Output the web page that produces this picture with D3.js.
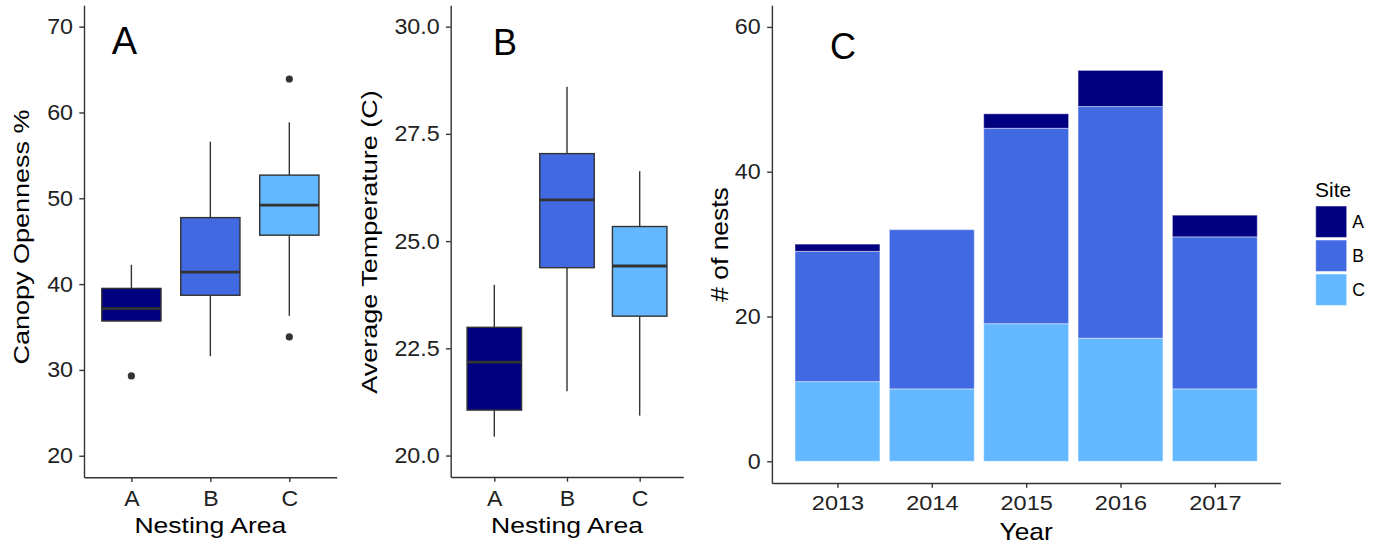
<!DOCTYPE html>
<html>
<head>
<meta charset="utf-8">
<script src="https://cdn.jsdelivr.net/npm/d3@7/dist/d3.min.js"></script>
<style>
  html, body { margin: 0; padding: 0; background: #fff; }
  svg { display: block; }
  text { font-family: "Liberation Sans", Arial, sans-serif; }
</style>
</head>
<body>
<svg id="fig" width="1375" height="548"></svg>
<script>
// ---- data ----
const areas = ["A", "B", "C"];
const siteColors = ["#000080", "#4169E1", "#63B8FF"];

// Canopy openness (%) box summaries per nesting area
const canopyLow    = [35.7, 31.6, 36.3];
const canopyQ1     = [35.7, 38.7, 45.7];
const canopyMedian = [37.15, 41.4, 49.2];
const canopyQ3     = [39.5, 47.75, 52.7];
const canopyHigh   = [42.25, 56.6, 58.85];
const canopyOutlierArea  = ["A", "C", "C"];
const canopyOutlierValue = [29.3, 63.9, 33.85];
const canopyTicks = [20, 30, 40, 50, 60, 70];

// Average temperature (C) box summaries per nesting area
const tempLow    = [20.44, 21.5, 20.93];
const tempQ1     = [21.06, 24.38, 23.25];
const tempMedian = [22.18, 25.96, 24.42];
const tempQ3     = [22.99, 27.04, 25.34];
const tempHigh   = [23.98, 28.6, 26.63];
const tempTicks = [20, 22.5, 25, 27.5, 30];

// Nest counts per year and site
const years  = [2013, 2014, 2015, 2016, 2017];
const nestsA = [1, 0, 2, 5, 3];
const nestsB = [18, 22, 27, 32, 21];
const nestsC = [11, 10, 19, 17, 10];
const nestTicks = [0, 20, 40, 60];

// ---- helpers ----
const svg = d3.select("#fig");
const AXIS = "#333333";
const TICK_TXT = "#222222";

function addText(g, str, x, y, size, opt = {}) {
  const rot = opt.rotate || 0;
  const sx = opt.sx || 1;
  return g.append("text")
    .attr("transform", `translate(${x},${y}) rotate(${rot}) scale(${sx},1)`)
    .attr("text-anchor", opt.anchor || "middle")
    .attr("font-size", size)
    .attr("fill", opt.fill || "#000")
    .text(str);
}

function styleAxis(g, fontSize, sx) {
  g.select(".domain").attr("stroke", AXIS).attr("stroke-width", 1.4);
  g.selectAll(".tick line").attr("stroke", AXIS).attr("stroke-width", 1.4);
  g.selectAll(".tick text")
    .attr("font-size", fontSize)
    .attr("fill", TICK_TXT)
    .attr("font-family", "Liberation Sans, Arial, sans-serif")
    .attr("transform", `scale(${sx},1)`);
}

function boxPanel(cfg) {
  const g = svg.append("g");
  const x = d3.scalePoint().domain(areas).range([cfg.x0, cfg.x1]).padding(0.6);
  const y = d3.scaleLinear().domain(cfg.domain).range([cfg.yBottom, cfg.yTop]);
  const bw = x.step() * 0.75;

  const rows = areas.map((a, i) => ({
    area: a, lo: cfg.low[i], q1: cfg.q1[i], med: cfg.med[i], q3: cfg.q3[i], hi: cfg.high[i], color: siteColors[i]
  }));

  const box = g.selectAll("g.box").data(rows).join("g").attr("class", "box");
  box.append("line")
    .attr("x1", d => x(d.area)).attr("x2", d => x(d.area))
    .attr("y1", d => y(d.hi)).attr("y2", d => y(d.q3))
    .attr("stroke", AXIS).attr("stroke-width", 1.4);
  box.append("line")
    .attr("x1", d => x(d.area)).attr("x2", d => x(d.area))
    .attr("y1", d => y(d.q1)).attr("y2", d => y(d.lo))
    .attr("stroke", AXIS).attr("stroke-width", 1.4);
  box.append("rect")
    .attr("x", d => x(d.area) - bw / 2).attr("width", bw)
    .attr("y", d => y(d.q3)).attr("height", d => y(d.q1) - y(d.q3))
    .attr("fill", d => d.color).attr("stroke", AXIS).attr("stroke-width", 1.4);
  box.append("line")
    .attr("x1", d => x(d.area) - bw / 2).attr("x2", d => x(d.area) + bw / 2)
    .attr("y1", d => y(d.med)).attr("y2", d => y(d.med))
    .attr("stroke", AXIS).attr("stroke-width", 2.8);

  if (cfg.outArea) {
    g.selectAll("circle.out").data(cfg.outArea.map((a, i) => ({ a, v: cfg.outValue[i] })))
      .join("circle").attr("class", "out")
      .attr("cx", d => x(d.a)).attr("cy", d => y(d.v)).attr("r", 3.6)
      .attr("fill", AXIS);
  }

  const ya = g.append("g").attr("transform", `translate(${cfg.x0},0)`)
    .call(d3.axisLeft(y).tickValues(cfg.ticks).tickFormat(cfg.fmt).tickSize(4.7).tickSizeOuter(0).tickPadding(5.6));
  styleAxis(ya, 22, 1.06);
  const xa = g.append("g").attr("transform", `translate(0,${cfg.yBottom})`)
    .call(d3.axisBottom(x).tickSize(4.7).tickSizeOuter(0).tickPadding(8.4));
  styleAxis(xa, 22, 1.05);

  addText(g, "Nesting Area", (cfg.x0 + cfg.x1) / 2, 533, 22.5, { sx: 1.18 });
  addText(g, cfg.yTitle, cfg.yTitleX, cfg.yTitleY, 22.5, { rotate: -90, sx: cfg.yTitleSx });
  addText(g, cfg.letter, cfg.letterX, cfg.letterY, cfg.letterSize);
}

// ---- panel A: canopy openness ----
boxPanel({
  x0: 84, x1: 336.7, yTop: 5.2, yBottom: 477.2, domain: [17.5, 72.5],
  low: canopyLow, q1: canopyQ1, med: canopyMedian, q3: canopyQ3, high: canopyHigh,
  outArea: canopyOutlierArea, outValue: canopyOutlierValue,
  ticks: canopyTicks, fmt: d3.format("d"),
  yTitle: "Canopy Openness %", yTitleX: 28.5, yTitleY: 237, yTitleSx: 1.2,
  letter: "A", letterX: 124.5, letterY: 54.2, letterSize: 38
});

// ---- panel B: average temperature ----
boxPanel({
  x0: 450.7, x1: 683.3, yTop: 5.2, yBottom: 477, domain: [19.5, 30.5],
  low: tempLow, q1: tempQ1, med: tempMedian, q3: tempQ3, high: tempHigh,
  ticks: tempTicks, fmt: d3.format(".1f"),
  yTitle: "Average Temperature (C)", yTitleX: 377, yTitleY: 242, yTitleSx: 1.2,
  letter: "B", letterX: 505, letterY: 54.9, letterSize: 36
});

// ---- panel C: stacked nest counts ----
(function () {
  const g = svg.append("g");
  const x0 = 771.9, x1 = 1280.4, yTop = 5.2, yBottom = 483;
  const x = d3.scaleLinear().domain([2012.305, 2017.695]).range([x0, x1]);
  const y = d3.scaleLinear().domain([-3, 63]).range([yBottom, yTop]);
  const color = d3.scaleOrdinal().domain(areas).range(siteColors);

  const table = years.map((yr, i) => ({ year: yr, A: nestsA[i], B: nestsB[i], C: nestsC[i] }));
  const stacked = d3.stack().keys(["C", "B", "A"])(table);

  g.selectAll("g.layer").data(stacked).join("g").attr("class", "layer")
    .attr("fill", d => color(d.key))
    .selectAll("rect").data(d => d.filter(p => p[1] > p[0])).join("rect")
    .attr("x", d => x(d.data.year - 0.45))
    .attr("width", d => x(d.data.year + 0.45) - x(d.data.year - 0.45))
    .attr("y", d => y(d[1]))
    .attr("height", d => y(d[0]) - y(d[1]))
    .attr("stroke", "#ffffff").attr("stroke-opacity", 0.45).attr("stroke-width", 1);

  const ya = g.append("g").attr("transform", `translate(${x0},0)`)
    .call(d3.axisLeft(y).tickValues(nestTicks).tickFormat(d3.format("d")).tickSize(4.7).tickSizeOuter(0).tickPadding(5.8));
  styleAxis(ya, 21.5, 1.08);
  const xa = g.append("g").attr("transform", `translate(0,${yBottom})`)
    .call(d3.axisBottom(x).tickValues(years).tickFormat(d3.format("d")).tickSize(4.7).tickSizeOuter(0).tickPadding(7.4));
  styleAxis(xa, 21, 1.12);

  addText(g, "Year", (x0 + x1) / 2, 540, 24, { sx: 1.1 });
  addText(g, "# of nests", 727.6, 244.5, 23, { rotate: -90, sx: 1.15 });
  addText(g, "C", 843, 59.4, 36);

  // legend
  const lg = svg.append("g");
  addText(lg, "Site", 1315, 196.7, 20, { anchor: "start", sx: 1.05 });
  const item = lg.selectAll("g.key").data(areas).join("g").attr("class", "key")
    .attr("transform", (d, i) => `translate(1315.7,${206 + i * 34})`);
  item.append("rect").attr("width", 31).attr("height", 31.5)
    .attr("fill", d => color(d))
    .attr("stroke", "#ffffff").attr("stroke-opacity", 0.5).attr("stroke-width", 1);
  item.append("text").attr("x", 36.6).attr("y", 22.3)
    .attr("font-size", 17.5).attr("fill", "#000").text(d => d);
})();
</script>
</body>
</html>
